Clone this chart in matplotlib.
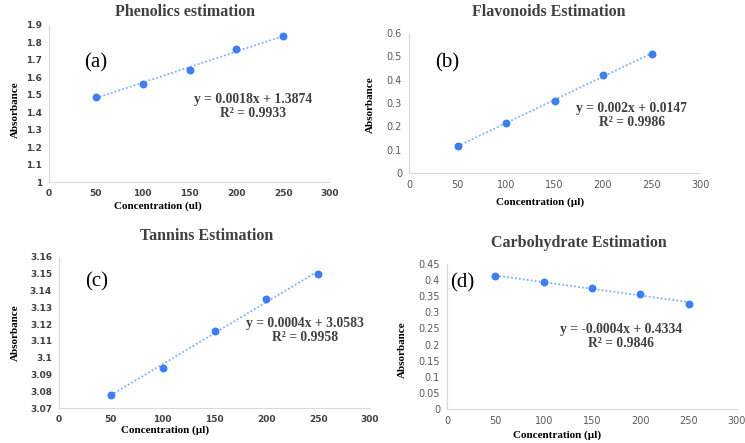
import numpy as np
import matplotlib.pyplot as plt

conc = [50, 100, 150, 200, 250]
phenolics = [1.49, 1.563, 1.643, 1.762, 1.836]
flavonoids = [0.115, 0.215, 0.308, 0.42, 0.51]
tannins = [3.078, 3.094, 3.116, 3.135, 3.150]
carbohydrate = [0.412, 0.393, 0.377, 0.356, 0.327]

titles = ['Phenolics estimation', 'Flavonoids Estimation',
          'Tannins Estimation', 'Carbohydrate Estimation']
panel_tags = ['(a)', '(b)', '(c)', '(d)']
equations = ['y = 0.0018x + 1.3874\nR² = 0.9933',
             'y = 0.002x + 0.0147\nR² = 0.9986',
             'y = 0.0004x + 3.0583\nR² = 0.9958',
             'y = -0.0004x + 0.4334\nR² = 0.9846']
xlabels = ['Concentration (ul)', 'Concentration (µl)',
           'Concentration (µl)', 'Concentration (µl)']
yticks = [np.round(np.arange(1, 1.91, 0.1), 2),
          np.round(np.arange(0, 0.61, 0.1), 2),
          np.round(np.arange(3.07, 3.161, 0.01), 2),
          np.round(np.arange(0, 0.451, 0.05), 2)]
xticks = [0, 50, 100, 150, 200, 250, 300]

W, H = 745, 443


def px(left, top, right, bottom):
    return [left / W, 1 - bottom / H, (right - left) / W, (bottom - top) / H]


# per panel: axes box (px), title pos, xlabel pos, ylabel pos, tag pos, eq pos
layout = [
    dict(box=(49, 25, 330, 182), title=(185, 12), xl=(158, 206), yl=(15, 110),
         tag=(0.167, 0.76), eq=(0.726, 0.478), bold_ticks=True),
    dict(box=(409, 33, 700, 173), title=(549, 12), xl=(540, 202), yl=(370, 105),
         tag=(0.13, 0.786), eq=(0.766, 0.414), bold_ticks=False),
    dict(box=(59, 257, 370, 408), title=(207, 236), xl=(165, 430), yl=(15, 333),
         tag=(0.122, 0.834), eq=(0.79, 0.51), bold_ticks=True),
    dict(box=(447, 264, 737, 409), title=(579, 243), xl=(557, 435), yl=(402, 350),
         tag=(0.052, 0.87), eq=(0.6, 0.50), bold_ticks=False),
]

series = [phenolics, flavonoids, tannins, carbohydrate]
serif = 'Liberation Serif'
dot_color = '#3d7ef0'
line_color = '#7fb0f2'
title_color = '#404040'

fig = plt.figure(figsize=(W / 100, H / 100), dpi=100)

for i, ys in enumerate(series):
    lay = layout[i]
    ax = fig.add_axes(px(*lay['box']))
    x = np.array(conc)
    y = np.array(ys)
    k, b = np.polyfit(x, y, 1)
    ax.plot(x, k * x + b, linestyle=(0, (1, 1.2)), color=line_color, lw=1.3)
    ax.scatter(x, y, s=22, color=dot_color, zorder=3)

    ax.set_xlim(0, 300)
    ax.set_xticks(xticks)
    yt = yticks[i]
    ax.set_ylim(yt[0], yt[-1])
    ax.set_yticks(yt)
    ax.set_yticklabels([f'{v:g}' for v in yt])

    for s in ['top', 'right']:
        ax.spines[s].set_visible(False)
    for s in ['left', 'bottom']:
        ax.spines[s].set_color('#d9d9d9')
    ax.tick_params(length=0, pad=5)
    if lay['bold_ticks']:
        for lab in ax.get_xticklabels() + ax.get_yticklabels():
            lab.set_fontweight('bold')
            lab.set_fontsize(6.5)
            lab.set_color('#404040')
    else:
        for lab in ax.get_xticklabels() + ax.get_yticklabels():
            lab.set_fontsize(7)
            lab.set_color('#595959')

    ax.text(*lay['tag'], panel_tags[i], transform=ax.transAxes, ha='center',
            va='center', fontsize=15, family=serif, color='black')
    ax.text(*lay['eq'], equations[i], transform=ax.transAxes, ha='center',
            va='center', fontsize=9.8, family=serif, fontweight='bold',
            color='#404040', linespacing=1.1)

    tx, ty = lay['title']
    fig.text(tx / W, 1 - ty / H, titles[i], ha='center', va='center',
             fontsize=11.5, family=serif, fontweight='bold', color=title_color)
    lx, ly = lay['xl']
    fig.text(lx / W, 1 - ly / H, xlabels[i], ha='center', va='center',
             fontsize=8, family=serif, fontweight='bold', color='black')
    yx, yy = lay['yl']
    fig.text(yx / W, 1 - yy / H, 'Absorbance', ha='center', va='center',
             rotation=90, fontsize=8, family=serif, fontweight='bold', color='black')

fig.savefig('out.png', dpi=100)
